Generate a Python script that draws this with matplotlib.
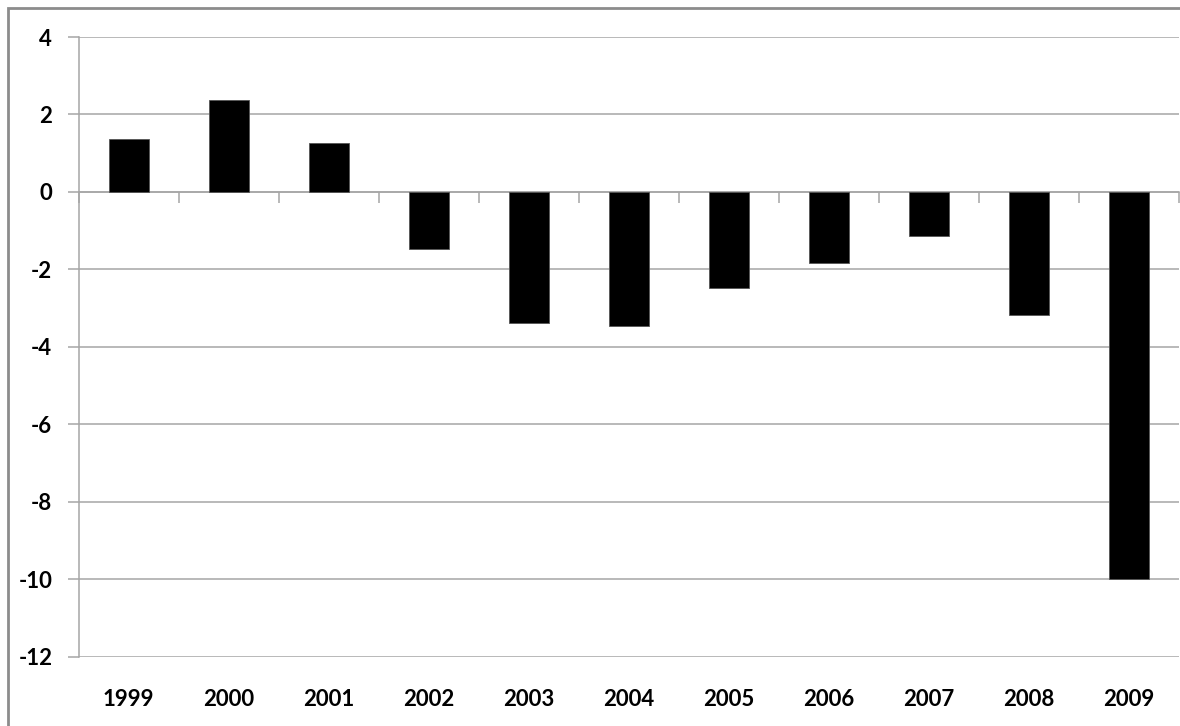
import matplotlib.pyplot as plt
from matplotlib.patches import Rectangle

years = ['1999', '2000', '2001', '2002', '2003', '2004',
         '2005', '2006', '2007', '2008', '2009']
values = [1.36, 2.38, 1.26, -1.47, -3.38, -3.47, -2.49, -1.84, -1.14, -3.17, -10.0]
y_ticks = [4, 2, 0, -2, -4, -6, -8, -10, -12]

plt.rcParams['font.family'] = ['Lato', 'DejaVu Sans']

fig = plt.figure(figsize=(11.8, 7.26), dpi=100)
ax = fig.add_axes([78.7 / 1180, 1 - 656.5 / 726, 1100.5 / 1180, (656.5 - 37) / 726])

grid_col = '#a6a6a6'
x = list(range(len(years)))
ax.bar(x, values, width=0.4, color='black', edgecolor='#555555', linewidth=0.6, zorder=3)

ax.set_xlim(-0.5, len(years) - 0.5)
ax.set_ylim(-12, 4)
ax.set_yticks(y_ticks)
ax.set_yticklabels([str(t) for t in y_ticks], fontsize=16, fontweight='bold')
ax.yaxis.grid(True, color=grid_col, linewidth=1.1, zorder=0)
ax.tick_params(axis='y', length=8, width=1.1, color=grid_col, pad=11)

# category axis sits on zero, tick marks at category boundaries
ax.spines['bottom'].set_position(('data', 0))
ax.spines['bottom'].set_color(grid_col)
ax.spines['bottom'].set_linewidth(1.1)
ax.set_xticks([i - 0.5 for i in range(len(years) + 1)])
ax.set_xticklabels([])
ax.tick_params(axis='x', direction='out', length=8, width=1.1, color=grid_col)
for s in ['top', 'right']:
    ax.spines[s].set_visible(False)
ax.spines['left'].set_color(grid_col)
ax.spines['left'].set_linewidth(1.1)

for i, yr in enumerate(years):
    ax.text(i, -0.070, yr, transform=ax.get_xaxis_transform(), ha='center', va='center',
            fontsize=16, fontweight='bold')

# outer chart border (only left and top visible in the crop)
fig.patches.append(Rectangle((7.5 / 1180, -0.1), 1.2, 1 - 8 / 726 + 0.1,
                             transform=fig.transFigure, fill=False,
                             edgecolor='#8c8c8c', linewidth=2))

plt.savefig('out.png', dpi=100)
plt.close()
